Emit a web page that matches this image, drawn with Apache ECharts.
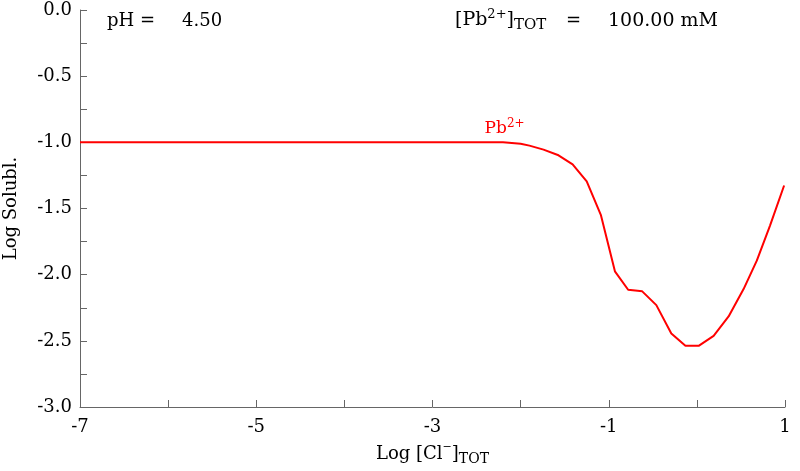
<!DOCTYPE html>
<html>
<head>
<meta charset="utf-8">
<script src="https://cdn.jsdelivr.net/npm/echarts@6/dist/echarts.min.js"></script>
<style>
  html, body { margin: 0; padding: 0; background: #fff; }
  #chart { width: 800px; height: 471px; }
</style>
</head>
<body>
<div id="chart"></div>
<script>
// log [Cl-] total vs log solubility of Pb2+
var logCl = [-7, -6, -5, -4, -3, -2.6, -2.2, -2.0, -1.9, -1.74, -1.57, -1.41, -1.25, -1.09, -0.93,
             -0.78, -0.62, -0.46, -0.29, -0.13, 0.02, 0.19, 0.36, 0.53, 0.68, 0.83, 0.99];
var logSol = [-1.0, -1.0, -1.0, -1.0, -1.0, -1.0, -1.0, -1.01, -1.025, -1.055, -1.098, -1.167, -1.295, -1.548, -1.975,
              -2.114, -2.126, -2.23, -2.444, -2.538, -2.538, -2.462, -2.316, -2.109, -1.894, -1.629, -1.326];

var xTicks = [-7, -5, -3, -1, 1];
var yTicks = [0, -0.5, -1, -1.5, -2, -2.5, -3];

var serif = '"DejaVu Serif", "Liberation Serif", serif';
var axisGray = '#666';

var points = [];
for (var i = 0; i < logCl.length; i++) {
    points.push([logCl[i], logSol[i]]);
}

var chart = echarts.init(document.getElementById('chart'));

var option = {
    animation: false,
    backgroundColor: '#fff',
    grid: { left: 80, right: 15, top: 10, bottom: 64, outerBoundsMode: 'none', containLabel: false },
    xAxis: {
        type: 'value',
        min: -7,
        max: 1,
        interval: 1,
        name: '{n|Log [Cl}{sup|−}{n|]}{sub|TOT}',
        nameLocation: 'middle',
        nameGap: 35,
        nameTextStyle: {
            rich: {
                n: { fontFamily: serif, fontSize: 18, color: '#000' },
                sup: { fontFamily: serif, fontSize: 11, color: '#000', verticalAlign: 'top', padding: [0, 0, 8, 0] },
                sub: { fontFamily: serif, fontSize: 14, color: '#000', padding: [10, 0, 0, 0] }
            }
        },
        axisLine: { onZero: false, lineStyle: { color: axisGray, width: 1 } },
        axisTick: { inside: true, length: 7, lineStyle: { color: axisGray } },
        splitLine: { show: false },
        axisLabel: {
            fontFamily: serif,
            fontSize: 18,
            color: '#000',
            margin: 11,
            formatter: function (v) {
                return xTicks.indexOf(v) >= 0 ? String(v) : '';
            }
        }
    },
    yAxis: {
        type: 'value',
        min: -3,
        max: 0,
        interval: 0.25,
        name: 'Log Solubl.',
        nameLocation: 'middle',
        nameGap: 60,
        nameTextStyle: { fontFamily: serif, fontSize: 18, color: '#000' },
        axisLine: { show: true, onZero: false, lineStyle: { color: axisGray, width: 1 } },
        axisTick: { show: true, inside: true, length: 7, lineStyle: { color: axisGray } },
        splitLine: { show: false },
        axisLabel: {
            fontFamily: serif,
            fontSize: 18,
            color: '#000',
            margin: 8,
            formatter: function (v) {
                for (var k = 0; k < yTicks.length; k++) {
                    if (Math.abs(yTicks[k] - v) < 1e-6) return v.toFixed(1);
                }
                return '';
            }
        }
    },
    series: [{
        type: 'line',
        data: points,
        showSymbol: false,
        lineStyle: { color: '#ff0000', width: 2 },
        markPoint: {
            symbol: 'circle',
            symbolSize: 0,
            data: [{ coord: [-2.5, -1.0] }],
            label: {
                show: true,
                offset: [28, -14],
                formatter: '{n|Pb}{sup|2+}',
                rich: {
                    n: { fontFamily: serif, fontSize: 17, color: '#ff0000' },
                    sup: { fontFamily: serif, fontSize: 12, color: '#ff0000', verticalAlign: 'top', padding: [0, 0, 8, 0] }
                }
            }
        }
    }],
    graphic: [{
        type: 'text',
        left: 107,
        top: 12,
        style: { text: 'pH =', font: '18px ' + serif, fill: '#000' }
    }, {
        type: 'text',
        left: 182,
        top: 12,
        style: { text: '4.50', font: '18px ' + serif, fill: '#000' }
    }, {
        type: 'text',
        left: 455,
        top: 8,
        style: {
            text: '{n|[Pb}{sup|2+}{n|]}{sub|TOT}',
            rich: {
                n: { fontFamily: serif, fontSize: 19, fill: '#000' },
                sup: { fontFamily: serif, fontSize: 13, fill: '#000', verticalAlign: 'top', padding: [0, 0, 8, 0] },
                sub: { fontFamily: serif, fontSize: 15, fill: '#000', padding: [10, 0, 0, 0] }
            }
        }
    }, {
        type: 'text',
        left: 566,
        top: 12,
        style: { text: '=', font: '18px ' + serif, fill: '#000' }
    }, {
        type: 'text',
        left: 608,
        top: 12,
        style: { text: '100.00 mM', font: '19px ' + serif, fill: '#000' }
    }]
};

chart.setOption(option);
</script>
</body>
</html>
